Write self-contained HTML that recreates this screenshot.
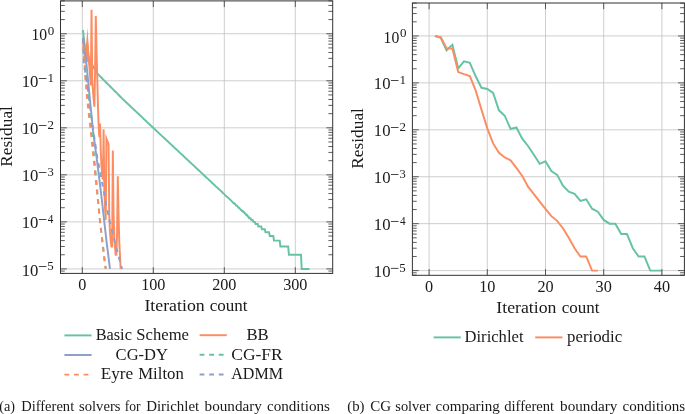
<!DOCTYPE html>
<html><head><meta charset="utf-8"><style>
html,body{margin:0;padding:0;background:#fff;width:685px;height:414px;overflow:hidden;}
svg{display:block;will-change:transform;font-family:"Liberation Serif", serif;}
</style></head><body>
<svg width="685" height="414" viewBox="0 0 685 414"><path d="M82.30 0.90V273.40 M153.30 0.90V273.40 M224.30 0.90V273.40 M295.30 0.90V273.40 M60.50 33.76H332.70 M60.50 80.79H332.70 M60.50 127.82H332.70 M60.50 174.85H332.70 M60.50 221.88H332.70 M60.50 268.91H332.70" stroke="#c2c2c2" stroke-width="0.8" fill="none"/>
<polyline points="83.01,30.00 83.72,37.17 84.43,43.01 85.14,47.98 85.85,51.26 86.56,52.79 87.27,54.33 87.98,55.86 88.69,57.40 89.40,58.90 90.11,60.34 90.82,61.78 91.53,63.22 92.24,64.65 92.95,66.09 93.66,67.42 94.37,68.57 95.08,69.71 95.79,70.86 96.50,72.00 97.21,73.15 97.92,74.22 98.63,74.93 99.34,75.64 100.05,76.35 100.76,77.06 101.47,77.77 102.18,78.48 102.89,79.19 103.60,79.90 104.31,80.61 105.02,81.32 105.73,82.03 106.44,82.74 107.15,83.45 107.86,84.16 108.57,84.87 109.28,85.58 109.99,86.29 110.70,87.00 111.41,87.71 112.12,88.42 112.83,89.13 113.54,89.84 114.25,90.55 114.96,91.26 115.67,91.97 116.38,92.68 117.09,93.39 117.80,94.10 118.51,94.81 119.22,95.52 119.93,96.23 120.64,96.94 121.35,97.65 122.06,98.36 122.77,99.07 123.48,99.76 124.19,100.43 124.90,101.10 125.61,101.77 126.32,102.44 127.03,103.11 127.74,103.78 128.45,104.44 129.16,105.12 129.87,105.79 130.58,106.46 131.29,107.12 132.00,107.79 132.71,108.46 133.42,109.13 134.13,109.80 134.84,110.47 135.55,111.14 136.26,111.81 136.97,112.48 137.68,113.15 138.39,113.82 139.10,114.49 139.81,115.16 140.52,115.83 141.23,116.50 141.94,117.16 142.65,117.84 143.36,118.50 144.07,119.17 144.78,119.85 145.49,120.51 146.20,121.18 146.91,121.86 147.62,122.52 148.33,123.20 149.04,123.86 149.75,124.53 150.46,125.20 151.17,125.87 151.88,126.55 152.59,127.22 153.30,127.88 154.01,128.55 154.72,129.21 155.43,129.86 156.14,130.52 156.85,131.19 157.56,131.85 158.27,132.53 158.98,133.18 159.69,133.86 160.40,134.50 161.11,135.16 161.82,135.85 162.53,136.49 163.24,137.16 163.95,137.82 164.66,138.49 165.37,139.16 166.08,139.81 166.79,140.48 167.50,141.14 168.21,141.81 168.92,142.47 169.63,143.11 170.34,143.81 171.05,144.45 171.76,145.11 172.47,145.78 173.18,146.43 173.89,147.10 174.60,147.80 175.31,148.46 176.02,149.09 176.73,149.73 177.44,150.40 178.15,151.09 178.86,151.74 179.57,152.41 180.28,153.10 180.99,153.75 181.70,154.41 182.41,155.10 183.12,155.73 183.83,156.38 184.54,157.05 185.25,157.75 185.96,158.38 186.67,159.03 187.38,159.70 188.09,160.39 188.80,161.00 189.51,161.74 190.22,162.40 190.93,163.07 191.64,163.65 192.35,164.38 193.06,165.00 193.77,165.64 194.48,166.30 195.19,166.98 195.90,167.69 196.61,168.27 197.32,169.03 198.03,169.65 198.74,170.29 199.45,170.96 200.16,171.64 200.87,172.35 201.58,172.90 202.29,173.66 203.00,174.25 203.71,175.06 204.42,175.68 205.13,176.33 205.84,177.00 206.55,177.69 207.26,178.17 207.97,178.90 208.68,179.66 209.39,180.19 210.10,181.00 210.81,181.56 211.52,182.14 212.23,183.03 212.94,183.65 213.65,184.29 214.36,184.95 215.07,185.63 215.78,186.33 216.49,187.06 217.20,187.44 217.91,188.21 218.62,189.01 219.33,189.42 220.04,190.27 220.75,190.71 221.46,191.62 222.17,192.09 222.88,193.06 223.59,193.57 224.30,194.08 225.01,195.16 225.72,195.72 226.43,196.29 227.14,196.88 227.85,197.49 228.56,198.12 229.27,198.77 229.98,199.44 230.69,200.13 231.40,200.85 232.11,201.59 232.82,202.36 233.53,203.16 234.24,203.16 234.95,204.00 235.66,204.87 236.37,205.78 237.08,205.78 237.79,206.73 238.50,207.72 239.21,207.72 239.92,208.77 240.63,209.87 241.34,209.87 242.05,211.04 242.76,211.04 243.47,212.28 244.18,212.28 244.89,213.60 245.60,213.60 246.31,215.01 247.02,215.01 247.73,216.52 248.44,216.52 249.15,218.16 249.86,218.16 250.57,218.16 251.28,219.93 251.99,219.93 252.70,219.93 253.41,221.88 254.12,221.88 254.83,221.88 255.54,224.03 256.25,224.03 256.96,224.03 257.67,224.03 258.38,226.44 259.09,226.44 259.80,226.44 260.51,226.44 261.22,226.44 261.93,229.17 262.64,229.17 263.35,229.17 264.06,229.17 264.77,229.17 265.48,232.31 266.19,232.31 266.90,232.31 267.61,232.31 268.32,232.31 269.03,232.31 269.74,236.04 270.45,236.04 271.16,236.04 271.87,236.04 272.58,236.04 273.29,236.04 274.00,240.60 274.71,240.60 275.42,240.60 276.13,240.60 276.84,240.60 277.55,240.60 278.26,240.60 278.97,240.60 279.68,240.60 280.39,246.47 281.10,246.47 281.81,246.47 282.52,246.47 283.23,246.47 283.94,246.47 284.65,246.47 285.36,246.47 286.07,246.47 286.78,246.47 287.49,246.47 288.20,246.47 288.91,254.75 289.62,254.75 290.33,254.75 291.04,254.75 291.75,254.75 292.46,254.75 293.17,254.75 293.88,254.75 294.59,254.75 295.30,254.75 296.01,254.75 296.72,254.75 297.43,254.75 298.14,254.75 298.85,254.75 299.56,254.75 300.27,254.75 300.98,254.75 301.69,268.91 302.40,268.91 303.11,268.91 303.82,268.91 304.53,268.91 305.24,268.91 305.95,268.91 306.66,268.91 307.37,268.91 308.08,268.91 308.79,268.91 309.50,268.91" stroke="#66c2a5" stroke-width="1.95" fill="none" stroke-linejoin="miter" stroke-miterlimit="10"/>
<polyline points="83.01,38.46 83.72,47.87 84.43,54.92 85.14,59.63 85.85,54.92 86.56,50.22 87.27,43.17 87.98,52.57 88.69,59.63 89.40,66.68 90.11,76.09 90.82,85.49 91.53,9.82 92.24,80.79 92.95,90.19 93.66,99.60 94.37,106.66 95.08,71.38 95.79,15.89 96.50,50.22 97.21,76.09 97.92,104.31 98.63,125.47 99.34,137.22 100.05,123.59 100.76,151.35 101.47,165.51 102.18,174.85 102.89,179.66 103.60,129.24 104.31,189.01 105.02,207.72 105.73,219.93 106.44,138.63 107.15,140.52 107.86,142.39 108.57,144.73 109.28,216.52 109.99,232.31 110.70,240.60 111.41,246.47 112.12,246.47 112.83,150.40 113.54,212.28 114.25,236.04 114.96,246.47 115.67,254.75 116.38,254.75 117.09,232.31 117.80,176.33 118.51,212.28 119.22,240.60 119.93,254.75 120.64,268.91" stroke="#fc8d62" stroke-width="1.95" fill="none" stroke-linejoin="miter" stroke-miterlimit="10"/>
<path d="M87.35 27.6L89.9 62L84.9 62Z" fill="#fc8d62"/>
<polyline points="83.01,37.52 83.72,42.77 84.43,48.02 85.14,53.27 85.85,58.52 86.56,65.15 87.27,72.38 87.98,79.60 88.69,86.83 89.40,94.05 90.11,101.27 90.82,108.50 91.53,115.72 92.24,122.95 92.95,130.17 93.66,135.50 94.37,140.84 95.08,146.17 95.79,151.50 96.50,156.84 97.21,162.32 97.92,168.03 98.63,173.74 99.34,179.45 100.05,185.16 100.76,190.87 101.47,196.64 102.18,202.94 102.89,209.23 103.60,215.52 104.31,221.81 105.02,228.11 105.73,234.40 106.44,240.69 107.15,246.34 107.86,251.98 108.57,257.62 109.28,263.27 109.99,268.91" stroke="#8da0cb" stroke-width="1.95" fill="none" stroke-linejoin="miter" stroke-miterlimit="10"/>
<polyline points="83.01,39.87 83.72,47.71 84.43,55.55 85.14,63.39 85.85,71.23 86.56,79.11 87.27,87.03 87.98,94.95 88.69,102.87 89.40,109.76 90.11,116.21 90.82,122.66 91.53,129.34 92.24,136.92 92.95,144.51 93.66,152.09 94.37,159.68 95.08,167.26 95.79,174.85 96.50,182.74 97.21,190.64 97.92,198.53 98.63,206.43 99.34,214.32 100.05,221.55 100.76,227.78 101.47,234.01 102.18,240.25 102.89,246.48 103.60,252.71 104.31,258.94 105.02,265.17 105.73,268.91" stroke="#66c2a5" stroke-width="1.95" fill="none" stroke-linejoin="miter" stroke-miterlimit="10" stroke-dasharray="4.8 4.8" stroke-dashoffset="3.21"/>
<polyline points="83.01,39.87 83.72,52.04 84.43,64.20 85.14,75.94 85.85,83.86 86.56,91.78 87.27,99.70 87.98,107.08 88.69,113.18 89.40,119.28 90.11,125.38 90.82,131.91 91.53,138.73 92.24,145.54 92.95,152.36 93.66,159.17 94.37,165.99 95.08,172.81 95.79,179.76 96.50,186.78 97.21,193.80 97.92,200.81 98.63,207.83 99.34,214.85 100.05,221.43 100.76,227.37 101.47,233.30 102.18,239.24 102.89,245.17 103.60,251.11 104.31,257.04 105.02,262.98 105.73,268.91" stroke="#fc8d62" stroke-width="1.95" fill="none" stroke-linejoin="miter" stroke-miterlimit="10" stroke-dasharray="4.8 4.8" stroke-dashoffset="3.20"/>
<polyline points="83.01,37.52 83.72,61.98 84.43,66.68 85.14,71.38 85.85,76.09 86.56,80.79 87.27,85.49 87.98,90.20 88.69,95.60 89.40,101.00 90.11,106.40 90.82,111.80 91.53,117.21 92.24,122.61 92.95,128.01 93.66,133.04 94.37,137.83 95.08,142.62 95.79,147.40 96.50,152.19 97.21,156.98 97.92,160.71 98.63,164.44 99.34,168.17 100.05,171.90 100.76,175.63 101.47,179.35 102.18,183.03 102.89,186.71 103.60,190.38 104.31,194.06 105.02,197.74 105.73,201.42 106.44,205.10 107.15,208.78 107.86,212.46 108.57,216.14 109.28,219.45 109.99,222.40 110.70,225.35 111.41,228.30 112.12,231.25 112.83,234.20 113.54,237.15 114.25,240.09 114.96,243.04 115.67,245.63 116.38,248.22 117.09,250.80 117.80,253.39 118.51,255.98 119.22,258.56 119.93,261.15 120.64,263.74 121.35,266.32 122.06,268.91" stroke="#8da0cb" stroke-width="1.95" fill="none" stroke-linejoin="miter" stroke-miterlimit="10" stroke-dasharray="4.8 4.8" stroke-dashoffset="7.86"/>
<path d="M82.30 273.40v-6.2M82.30 0.90v6.2 M153.30 273.40v-6.2M153.30 0.90v6.2 M224.30 273.40v-6.2M224.30 0.90v6.2 M295.30 273.40v-6.2M295.30 0.90v6.2 M60.50 273.47h4.3M332.70 273.47h-4.3 M60.50 271.06h4.3M332.70 271.06h-4.3 M60.50 268.91h6.3M332.70 268.91h-6.3 M60.50 254.75h4.3M332.70 254.75h-4.3 M60.50 246.47h4.3M332.70 246.47h-4.3 M60.50 240.60h4.3M332.70 240.60h-4.3 M60.50 236.04h4.3M332.70 236.04h-4.3 M60.50 232.31h4.3M332.70 232.31h-4.3 M60.50 229.17h4.3M332.70 229.17h-4.3 M60.50 226.44h4.3M332.70 226.44h-4.3 M60.50 224.03h4.3M332.70 224.03h-4.3 M60.50 221.88h6.3M332.70 221.88h-6.3 M60.50 207.72h4.3M332.70 207.72h-4.3 M60.50 199.44h4.3M332.70 199.44h-4.3 M60.50 193.57h4.3M332.70 193.57h-4.3 M60.50 189.01h4.3M332.70 189.01h-4.3 M60.50 185.28h4.3M332.70 185.28h-4.3 M60.50 182.14h4.3M332.70 182.14h-4.3 M60.50 179.41h4.3M332.70 179.41h-4.3 M60.50 177.00h4.3M332.70 177.00h-4.3 M60.50 174.85h6.3M332.70 174.85h-6.3 M60.50 160.69h4.3M332.70 160.69h-4.3 M60.50 152.41h4.3M332.70 152.41h-4.3 M60.50 146.54h4.3M332.70 146.54h-4.3 M60.50 141.98h4.3M332.70 141.98h-4.3 M60.50 138.25h4.3M332.70 138.25h-4.3 M60.50 135.11h4.3M332.70 135.11h-4.3 M60.50 132.38h4.3M332.70 132.38h-4.3 M60.50 129.97h4.3M332.70 129.97h-4.3 M60.50 127.82h6.3M332.70 127.82h-6.3 M60.50 113.66h4.3M332.70 113.66h-4.3 M60.50 105.38h4.3M332.70 105.38h-4.3 M60.50 99.51h4.3M332.70 99.51h-4.3 M60.50 94.95h4.3M332.70 94.95h-4.3 M60.50 91.22h4.3M332.70 91.22h-4.3 M60.50 88.08h4.3M332.70 88.08h-4.3 M60.50 85.35h4.3M332.70 85.35h-4.3 M60.50 82.94h4.3M332.70 82.94h-4.3 M60.50 80.79h6.3M332.70 80.79h-6.3 M60.50 66.63h4.3M332.70 66.63h-4.3 M60.50 58.35h4.3M332.70 58.35h-4.3 M60.50 52.48h4.3M332.70 52.48h-4.3 M60.50 47.92h4.3M332.70 47.92h-4.3 M60.50 44.19h4.3M332.70 44.19h-4.3 M60.50 41.05h4.3M332.70 41.05h-4.3 M60.50 38.32h4.3M332.70 38.32h-4.3 M60.50 35.91h4.3M332.70 35.91h-4.3 M60.50 33.76h6.3M332.70 33.76h-6.3 M60.50 19.60h4.3M332.70 19.60h-4.3 M60.50 11.32h4.3M332.70 11.32h-4.3 M60.50 5.45h4.3M332.70 5.45h-4.3 M60.50 0.89h4.3M332.70 0.89h-4.3" stroke="#404040" stroke-width="0.85" fill="none"/>
<rect x="60.50" y="0.90" width="272.20" height="272.50" stroke="#333" stroke-width="1" fill="none"/>
<path d="M429.10 3.00V275.30 M487.30 3.00V275.30 M545.50 3.00V275.30 M603.70 3.00V275.30 M661.90 3.00V275.30 M412.40 35.95H684.40 M412.40 82.88H684.40 M412.40 129.81H684.40 M412.40 176.74H684.40 M412.40 223.67H684.40 M412.40 270.60H684.40" stroke="#c2c2c2" stroke-width="0.8" fill="none"/>
<polyline points="434.92,35.95 440.74,37.83 446.56,50.31 452.38,44.87 458.20,68.33 464.02,61.29 469.84,62.93 475.66,76.31 481.48,87.81 487.30,88.98 493.12,92.97 498.94,110.33 504.76,115.73 510.58,128.87 516.40,127.46 522.22,138.73 528.04,146.00 533.86,154.68 539.68,163.83 545.50,161.25 551.32,171.11 557.14,174.86 562.96,185.66 568.78,191.76 574.60,193.87 580.42,200.91 586.24,199.27 592.06,208.65 597.88,211.70 603.70,219.92 609.52,223.67 615.34,223.67 621.16,234.09 626.98,234.09 632.80,248.21 638.62,256.47 644.44,256.47 650.26,270.60 656.08,270.60 661.90,270.60" stroke="#66c2a5" stroke-width="1.95" fill="none" stroke-linejoin="miter" stroke-miterlimit="10"/>
<polyline points="434.92,35.95 440.74,37.12 446.56,48.15 452.38,48.62 458.20,72.09 464.02,74.20 469.84,76.08 475.66,90.39 481.48,109.63 487.30,128.40 493.12,143.42 498.94,152.81 504.76,157.50 510.58,160.31 516.40,167.82 522.22,176.04 528.04,186.60 533.86,194.10 539.68,201.61 545.50,208.89 551.32,216.16 557.14,220.85 562.96,228.22 568.78,237.80 574.60,248.21 580.42,256.47 586.24,256.47 592.06,270.60 597.88,270.60" stroke="#fc8d62" stroke-width="1.95" fill="none" stroke-linejoin="miter" stroke-miterlimit="10"/>
<path d="M429.10 275.30v-6.2M429.10 3.00v6.2 M487.30 275.30v-6.2M487.30 3.00v6.2 M545.50 275.30v-6.2M545.50 3.00v6.2 M603.70 275.30v-6.2M603.70 3.00v6.2 M661.90 275.30v-6.2M661.90 3.00v6.2 M412.40 275.15h4.3M684.40 275.15h-4.3 M412.40 272.75h4.3M684.40 272.75h-4.3 M412.40 270.60h6.3M684.40 270.60h-6.3 M412.40 256.47h4.3M684.40 256.47h-4.3 M412.40 248.21h4.3M684.40 248.21h-4.3 M412.40 242.35h4.3M684.40 242.35h-4.3 M412.40 237.80h4.3M684.40 237.80h-4.3 M412.40 234.08h4.3M684.40 234.08h-4.3 M412.40 230.94h4.3M684.40 230.94h-4.3 M412.40 228.22h4.3M684.40 228.22h-4.3 M412.40 225.82h4.3M684.40 225.82h-4.3 M412.40 223.67h6.3M684.40 223.67h-6.3 M412.40 209.54h4.3M684.40 209.54h-4.3 M412.40 201.28h4.3M684.40 201.28h-4.3 M412.40 195.42h4.3M684.40 195.42h-4.3 M412.40 190.87h4.3M684.40 190.87h-4.3 M412.40 187.15h4.3M684.40 187.15h-4.3 M412.40 184.01h4.3M684.40 184.01h-4.3 M412.40 181.29h4.3M684.40 181.29h-4.3 M412.40 178.89h4.3M684.40 178.89h-4.3 M412.40 176.74h6.3M684.40 176.74h-6.3 M412.40 162.61h4.3M684.40 162.61h-4.3 M412.40 154.35h4.3M684.40 154.35h-4.3 M412.40 148.49h4.3M684.40 148.49h-4.3 M412.40 143.94h4.3M684.40 143.94h-4.3 M412.40 140.22h4.3M684.40 140.22h-4.3 M412.40 137.08h4.3M684.40 137.08h-4.3 M412.40 134.36h4.3M684.40 134.36h-4.3 M412.40 131.96h4.3M684.40 131.96h-4.3 M412.40 129.81h6.3M684.40 129.81h-6.3 M412.40 115.68h4.3M684.40 115.68h-4.3 M412.40 107.42h4.3M684.40 107.42h-4.3 M412.40 101.56h4.3M684.40 101.56h-4.3 M412.40 97.01h4.3M684.40 97.01h-4.3 M412.40 93.29h4.3M684.40 93.29h-4.3 M412.40 90.15h4.3M684.40 90.15h-4.3 M412.40 87.43h4.3M684.40 87.43h-4.3 M412.40 85.03h4.3M684.40 85.03h-4.3 M412.40 82.88h6.3M684.40 82.88h-6.3 M412.40 68.75h4.3M684.40 68.75h-4.3 M412.40 60.49h4.3M684.40 60.49h-4.3 M412.40 54.63h4.3M684.40 54.63h-4.3 M412.40 50.08h4.3M684.40 50.08h-4.3 M412.40 46.36h4.3M684.40 46.36h-4.3 M412.40 43.22h4.3M684.40 43.22h-4.3 M412.40 40.50h4.3M684.40 40.50h-4.3 M412.40 38.10h4.3M684.40 38.10h-4.3 M412.40 35.95h6.3M684.40 35.95h-6.3 M412.40 21.82h4.3M684.40 21.82h-4.3 M412.40 13.56h4.3M684.40 13.56h-4.3 M412.40 7.70h4.3M684.40 7.70h-4.3 M412.40 3.15h4.3M684.40 3.15h-4.3" stroke="#404040" stroke-width="0.85" fill="none"/>
<rect x="412.40" y="3.00" width="272.00" height="272.30" stroke="#333" stroke-width="1" fill="none"/>
<g font-family='"Liberation Serif", serif' fill="#1a1a1a">
<text x="47.81" y="34.71" font-size="12" textLength="6.49" lengthAdjust="spacingAndGlyphs">0</text>
<text x="31.52" y="40.36" font-size="16.2" textLength="15.67" lengthAdjust="spacingAndGlyphs">10</text>
<text x="47.45" y="81.74" font-size="12" textLength="6.53" lengthAdjust="spacingAndGlyphs">1</text>
<rect x="38.80" y="78.09" width="7.6" height="0.8"/>
<text x="21.73" y="87.39" font-size="16.2" textLength="16.70" lengthAdjust="spacingAndGlyphs">10</text>
<text x="47.43" y="128.77" font-size="12" textLength="6.49" lengthAdjust="spacingAndGlyphs">2</text>
<rect x="38.80" y="125.12" width="7.6" height="0.8"/>
<text x="21.73" y="134.42" font-size="16.2" textLength="16.70" lengthAdjust="spacingAndGlyphs">10</text>
<text x="47.40" y="175.80" font-size="12" textLength="6.29" lengthAdjust="spacingAndGlyphs">3</text>
<rect x="38.80" y="172.15" width="7.6" height="0.8"/>
<text x="21.73" y="181.45" font-size="16.2" textLength="16.70" lengthAdjust="spacingAndGlyphs">10</text>
<text x="47.78" y="222.83" font-size="12" textLength="5.59" lengthAdjust="spacingAndGlyphs">4</text>
<rect x="38.80" y="219.18" width="7.6" height="0.8"/>
<text x="21.73" y="228.48" font-size="16.2" textLength="16.70" lengthAdjust="spacingAndGlyphs">10</text>
<text x="47.25" y="269.86" font-size="12" textLength="6.45" lengthAdjust="spacingAndGlyphs">5</text>
<rect x="38.80" y="266.21" width="7.6" height="0.8"/>
<text x="21.73" y="275.51" font-size="16.2" textLength="16.70" lengthAdjust="spacingAndGlyphs">10</text>
<text x="399.91" y="36.90" font-size="12" textLength="6.49" lengthAdjust="spacingAndGlyphs">0</text>
<text x="383.62" y="42.55" font-size="16.2" textLength="15.67" lengthAdjust="spacingAndGlyphs">10</text>
<text x="399.55" y="83.83" font-size="12" textLength="6.53" lengthAdjust="spacingAndGlyphs">1</text>
<rect x="390.90" y="80.18" width="7.6" height="0.8"/>
<text x="373.83" y="89.48" font-size="16.2" textLength="16.70" lengthAdjust="spacingAndGlyphs">10</text>
<text x="399.53" y="130.76" font-size="12" textLength="6.49" lengthAdjust="spacingAndGlyphs">2</text>
<rect x="390.90" y="127.11" width="7.6" height="0.8"/>
<text x="373.83" y="136.41" font-size="16.2" textLength="16.70" lengthAdjust="spacingAndGlyphs">10</text>
<text x="399.50" y="177.69" font-size="12" textLength="6.29" lengthAdjust="spacingAndGlyphs">3</text>
<rect x="390.90" y="174.04" width="7.6" height="0.8"/>
<text x="373.83" y="183.34" font-size="16.2" textLength="16.70" lengthAdjust="spacingAndGlyphs">10</text>
<text x="399.88" y="224.62" font-size="12" textLength="5.59" lengthAdjust="spacingAndGlyphs">4</text>
<rect x="390.90" y="220.97" width="7.6" height="0.8"/>
<text x="373.83" y="230.27" font-size="16.2" textLength="16.70" lengthAdjust="spacingAndGlyphs">10</text>
<text x="399.35" y="271.55" font-size="12" textLength="6.45" lengthAdjust="spacingAndGlyphs">5</text>
<rect x="390.90" y="267.90" width="7.6" height="0.8"/>
<text x="373.83" y="277.20" font-size="16.2" textLength="16.70" lengthAdjust="spacingAndGlyphs">10</text>
<text x="82.30" y="289.60" font-size="16.2" text-anchor="middle" >0</text>
<text x="153.30" y="289.60" font-size="16.2" text-anchor="middle" >100</text>
<text x="224.30" y="289.60" font-size="16.2" text-anchor="middle" >200</text>
<text x="295.30" y="289.60" font-size="16.2" text-anchor="middle" >300</text>
<text x="429.10" y="291.50" font-size="16.2" text-anchor="middle" >0</text>
<text x="487.30" y="291.50" font-size="16.2" text-anchor="middle" >10</text>
<text x="545.50" y="291.50" font-size="16.2" text-anchor="middle" >20</text>
<text x="603.70" y="291.50" font-size="16.2" text-anchor="middle" >30</text>
<text x="661.90" y="291.50" font-size="16.2" text-anchor="middle" >40</text>
<text x="144.46" y="311.00" font-size="16.6" textLength="60.21" lengthAdjust="spacingAndGlyphs">Iteration</text>
<text x="209.65" y="311.00" font-size="16.6" textLength="37.85" lengthAdjust="spacingAndGlyphs">count</text>
<text x="496.36" y="312.60" font-size="16.6" textLength="60.11" lengthAdjust="spacingAndGlyphs">Iteration</text>
<text x="561.65" y="312.60" font-size="16.6" textLength="37.75" lengthAdjust="spacingAndGlyphs">count</text>
<text transform="translate(11.9 136.4) rotate(-90)" font-size="16.2" text-anchor="middle" textLength="60.6" lengthAdjust="spacingAndGlyphs">Residual</text>
<text transform="translate(363.1 138.4) rotate(-90)" font-size="16.2" text-anchor="middle" textLength="60.6" lengthAdjust="spacingAndGlyphs">Residual</text>
<path d="M64.40 335.40h27.2" stroke="#66c2a5" stroke-width="1.95"/>
<path d="M199.60 335.20h27.2" stroke="#fc8d62" stroke-width="1.95"/>
<path d="M64.40 355.00h27.2" stroke="#8da0cb" stroke-width="1.95"/>
<path d="M199.60 354.80h27.2" stroke="#66c2a5" stroke-width="1.95" stroke-dasharray="4.8 4.8"/>
<path d="M64.40 374.60h27.2" stroke="#fc8d62" stroke-width="1.95" stroke-dasharray="4.8 4.8"/>
<path d="M199.60 374.40h27.2" stroke="#8da0cb" stroke-width="1.95" stroke-dasharray="4.8 4.8"/>
<text x="95.63" y="340.00" font-size="16.6" textLength="36.27" lengthAdjust="spacingAndGlyphs">Basic</text>
<text x="136.39" y="340.00" font-size="16.6" textLength="52.59" lengthAdjust="spacingAndGlyphs">Scheme</text>
<text x="115.62" y="359.60" font-size="16.6" textLength="52.40" lengthAdjust="spacingAndGlyphs">CG-DY</text>
<text x="100.70" y="379.00" font-size="16.6" textLength="32.49" lengthAdjust="spacingAndGlyphs">Eyre</text>
<text x="138.22" y="379.00" font-size="16.6" textLength="45.53" lengthAdjust="spacingAndGlyphs">Milton</text>
<text x="246.42" y="340.00" font-size="16.6" textLength="22.30" lengthAdjust="spacingAndGlyphs">BB</text>
<text x="231.29" y="359.60" font-size="16.6" textLength="51.34" lengthAdjust="spacingAndGlyphs">CG-FR</text>
<text x="231.24" y="379.00" font-size="16.6" textLength="51.83" lengthAdjust="spacingAndGlyphs">ADMM</text>
<path d="M433.60 337.40h27.2" stroke="#66c2a5" stroke-width="1.95"/>
<path d="M535.20 337.40h27.2" stroke="#fc8d62" stroke-width="1.95"/>
<text x="464.52" y="342.00" font-size="16.6" textLength="58.98" lengthAdjust="spacingAndGlyphs">Dirichlet</text>
<text x="567.03" y="342.00" font-size="16.6" textLength="55.09" lengthAdjust="spacingAndGlyphs">periodic</text>
<text x="-0.83" y="410.70" font-size="13.9" textLength="15.86" lengthAdjust="spacingAndGlyphs">(a)</text>
<text x="21.18" y="410.70" font-size="13.9" textLength="53.00" lengthAdjust="spacingAndGlyphs">Different</text>
<text x="79.00" y="410.70" font-size="13.9" textLength="41.53" lengthAdjust="spacingAndGlyphs">solvers</text>
<text x="124.68" y="410.70" font-size="13.9" textLength="15.84" lengthAdjust="spacingAndGlyphs">for</text>
<text x="146.17" y="410.70" font-size="13.9" textLength="53.02" lengthAdjust="spacingAndGlyphs">Dirichlet</text>
<text x="204.60" y="410.70" font-size="13.9" textLength="57.26" lengthAdjust="spacingAndGlyphs">boundary</text>
<text x="267.02" y="410.70" font-size="13.9" textLength="62.92" lengthAdjust="spacingAndGlyphs">conditions</text>
<text x="347.25" y="410.70" font-size="13.9" textLength="17.30" lengthAdjust="spacingAndGlyphs">(b)</text>
<text x="370.19" y="410.70" font-size="13.9" textLength="20.78" lengthAdjust="spacingAndGlyphs">CG</text>
<text x="395.31" y="410.70" font-size="13.9" textLength="35.22" lengthAdjust="spacingAndGlyphs">solver</text>
<text x="435.53" y="410.70" font-size="13.9" textLength="64.26" lengthAdjust="spacingAndGlyphs">comparing</text>
<text x="504.18" y="410.70" font-size="13.9" textLength="50.01" lengthAdjust="spacingAndGlyphs">different</text>
<text x="560.10" y="410.70" font-size="13.9" textLength="57.26" lengthAdjust="spacingAndGlyphs">boundary</text>
<text x="622.63" y="410.70" font-size="13.9" textLength="62.51" lengthAdjust="spacingAndGlyphs">conditions</text>
</g></svg>
</body></html>
